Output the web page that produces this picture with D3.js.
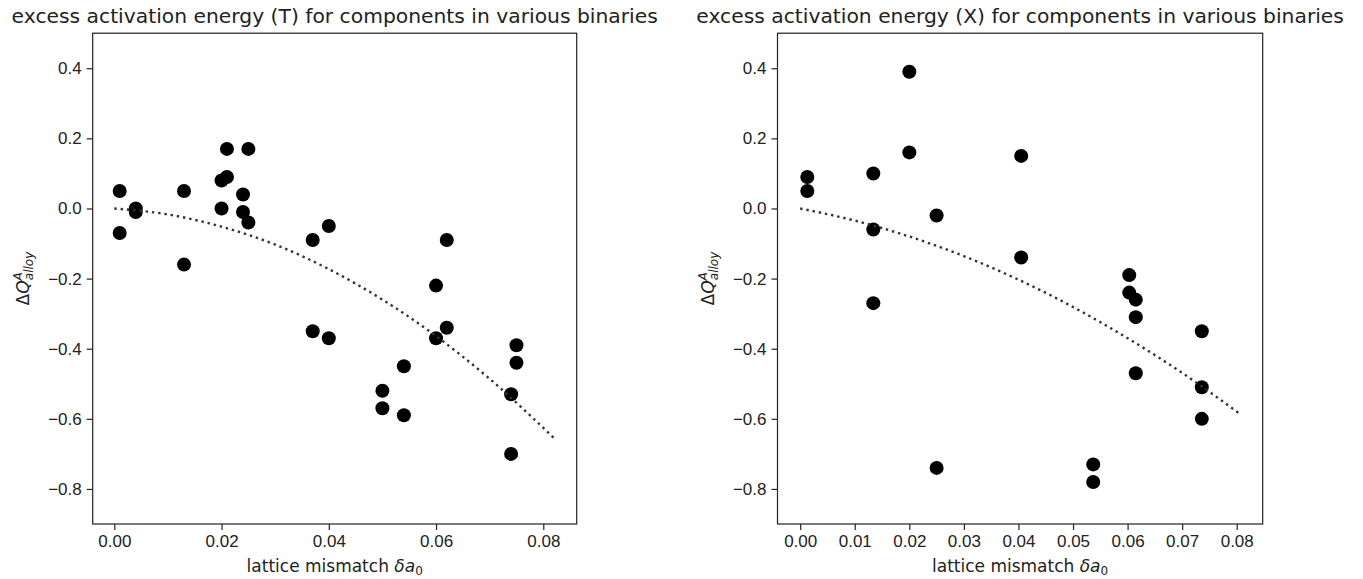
<!doctype html>
<html>
<head>
<meta charset="utf-8">
<script src="https://d3js.org/d3.v7.min.js"></script>
<style>
  body { margin: 0; background: white; }
  svg { font-family: 'DejaVu Sans', sans-serif; }
  .frame { fill: none; stroke: #222; stroke-width: 1.2px; }
  .tick line { stroke: #222; stroke-width: 1.2px; }
  .tick text { fill: #222; font-size: 17px; }
  .fit { fill: none; stroke: #333; stroke-width: 2.4px; stroke-dasharray: 2.4 3.9; }
</style>
</head>
<body>
<svg width="1363" height="579"></svg>
<script>
// ---- data ----
var tX = [0.001, 0.001, 0.004, 0.004, 0.013, 0.013, 0.021, 0.025, 0.020, 0.021,
          0.020, 0.024, 0.024, 0.025, 0.037, 0.040, 0.037, 0.040, 0.062, 0.060,
          0.062, 0.060, 0.054, 0.050, 0.050, 0.054, 0.075, 0.075, 0.074, 0.074];
var tY = [0.05, -0.07, 0.00, -0.01, 0.05, -0.16, 0.17, 0.17, 0.08, 0.09,
          0.00, 0.04, -0.01, -0.04, -0.09, -0.05, -0.35, -0.37, -0.09, -0.22,
          -0.34, -0.37, -0.45, -0.52, -0.57, -0.59, -0.39, -0.44, -0.53, -0.70];

var xX = [0.0013, 0.0013, 0.0134, 0.0134, 0.0134, 0.020, 0.020, 0.025, 0.025, 0.0405,
          0.0405, 0.0537, 0.0537, 0.0603, 0.0603, 0.0615, 0.0615, 0.0615, 0.0736, 0.0736, 0.0736];
var xY = [0.09, 0.05, 0.10, -0.06, -0.27, 0.39, 0.16, -0.02, -0.74, 0.15,
          -0.14, -0.73, -0.78, -0.19, -0.24, -0.26, -0.31, -0.47, -0.35, -0.51, -0.60];

// dotted trend curves
var tFitX = [0, 0.01, 0.02, 0.03, 0.04, 0.05, 0.06, 0.07, 0.082];
var tFitY = [0, -0.017, -0.052, -0.103, -0.173, -0.26, -0.364, -0.486, -0.655];
var xFitX = [0, 0.01, 0.02, 0.03, 0.04, 0.05, 0.06, 0.07, 0.0805];
var xFitY = [0, -0.0345, -0.080, -0.136, -0.203, -0.281, -0.370, -0.469, -0.585];

var tXTicks = [0, 0.02, 0.04, 0.06, 0.08];
var xXTicks = [0, 0.01, 0.02, 0.03, 0.04, 0.05, 0.06, 0.07, 0.08];
var yTicks = [-0.8, -0.6, -0.4, -0.2, 0.0, 0.2, 0.4];

var titles = ["excess activation energy (T) for components in various binaries",
              "excess activation energy (X) for components in various binaries"];

var svg = d3.select("svg");

var panels = [
  { left: 92.7, right: 576.7, xdom: [-0.00403, 0.08623], px: tX, py: tY, fx: tFitX, fy: tFitY, ticks: tXTicks, title: titles[0] },
  { left: 777.5, right: 1262.7, xdom: [-0.00416, 0.08476], px: xX, py: xY, fx: xFitX, fy: xFitY, ticks: xXTicks, title: titles[1] }
];
var plotTop = 33.2, plotBottom = 524;

panels.forEach(function (p) {
  var x = d3.scaleLinear().domain(p.xdom).range([p.left, p.right]);
  var y = d3.scaleLinear().domain([-0.9, 0.5]).range([plotBottom, plotTop]);
  var g = svg.append("g");

  g.selectAll("circle.pt")
    .data(d3.range(p.px.length))
    .join("circle")
    .attr("class", "pt")
    .attr("cx", function (i) { return x(p.px[i]); })
    .attr("cy", function (i) { return y(p.py[i]); })
    .attr("r", 7)
    .attr("fill", "#000");

  var line = d3.line()
    .x(function (i) { return x(p.fx[i]); })
    .y(function (i) { return y(p.fy[i]); })
    .curve(d3.curveMonotoneX);
  g.append("path").attr("class", "fit").attr("d", line(d3.range(p.fx.length)));

  g.append("g")
    .attr("transform", "translate(0," + plotBottom + ")")
    .call(d3.axisBottom(x).tickValues(p.ticks).tickFormat(d3.format(".2f")).tickSize(6).tickPadding(5))
    .call(function (a) { a.select(".domain").remove(); });

  g.append("g")
    .attr("transform", "translate(" + p.left + ",0)")
    .call(d3.axisLeft(y).tickValues(yTicks).tickFormat(d3.format(".1f")).tickSize(6).tickPadding(5))
    .call(function (a) { a.select(".domain").remove(); });

  g.append("rect").attr("class", "frame")
    .attr("x", p.left).attr("y", plotTop)
    .attr("width", p.right - p.left).attr("height", plotBottom - plotTop);

  var cx = (p.left + p.right) / 2;
  g.append("text")
    .attr("x", cx).attr("y", 23)
    .attr("text-anchor", "middle")
    .attr("font-size", "20.3px").attr("fill", "#222")
    .text(p.title);

  var xl = g.append("text")
    .attr("x", cx).attr("y", 572)
    .attr("text-anchor", "middle")
    .attr("font-size", "17px").attr("fill", "#222");
  xl.append("tspan").text("lattice mismatch ");
  xl.append("tspan").attr("font-style", "italic").text("δa");
  xl.append("tspan").attr("font-size", "12px").attr("dy", 3).text("0");

  var yl = g.append("text")
    .attr("transform", "translate(" + (p.left - 64) + "," + ((plotTop + plotBottom) / 2) + ") rotate(-90)")
    .attr("text-anchor", "middle")
    .attr("font-size", "17px").attr("fill", "#222");
  yl.append("tspan").text("Δ");
  yl.append("tspan").attr("font-style", "italic").text("Q");
  yl.append("tspan").attr("font-style", "italic").attr("font-size", "12px").attr("dy", -7).text("A");
  yl.append("tspan").attr("font-style", "italic").attr("font-size", "12px").attr("dx", -8).attr("dy", 11).text("alloy");
});
</script>
</body>
</html>
